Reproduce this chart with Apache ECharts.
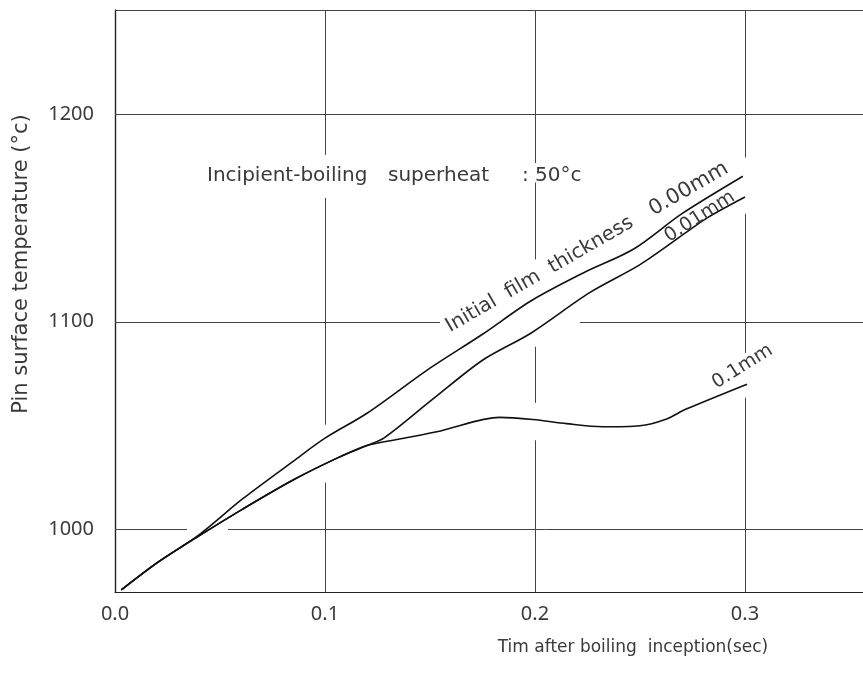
<!DOCTYPE html>
<html>
<head>
<meta charset="utf-8">
<script src="https://cdn.jsdelivr.net/npm/echarts@6/dist/echarts.min.js"></script>
<style>
html,body{margin:0;padding:0;background:#fff;}
#chart{width:863px;height:673px;}
</style>
</head>
<body>
<div id="chart"></div>
<script>
// ---- data ----
const time000 = [0.003, 0.02, 0.04, 0.061, 0.085, 0.1, 0.12, 0.149, 0.175, 0.198, 0.223, 0.247, 0.27, 0.299];
const temp000 = [971, 984, 997.5, 1015, 1033, 1044, 1056, 1077, 1094, 1110, 1123.5, 1135, 1152, 1170];

const time001 = [0.003, 0.02, 0.04, 0.061, 0.085, 0.107, 0.12, 0.128, 0.151, 0.175, 0.198, 0.226, 0.25, 0.272, 0.282, 0.3];
const temp001 = [971, 984, 997, 1010, 1024, 1035, 1040.5, 1044, 1062.5, 1081.5, 1094.5, 1114, 1127.5, 1143, 1150, 1160];

const time01 = [0.003, 0.02, 0.04, 0.061, 0.085, 0.107, 0.12, 0.135, 0.155, 0.183, 0.199, 0.215, 0.232, 0.25, 0.262, 0.272, 0.301];
const temp01 = [971, 984, 997, 1010, 1024, 1035, 1040.5, 1043.5, 1047.5, 1054, 1053, 1051, 1049.5, 1050, 1053, 1058, 1070];

const yTickValues = [1000, 1100, 1200];
const xTickValues = [0.0, 0.1, 0.2, 0.3];
const yMin = 970, yMax = 1250;
const xMin = 0, xMax = 0.3562;

// grid lines of the drawing (with the gaps the draftsman left)
const yGridValues = [1000, 1100, 1200, 1250];
const yGridGaps = [[[0.0343, 0.0538]], [[0.1548, 0.2214]], [], []];
const xGridValues = [0.1, 0.2, 0.3];
const xGridGaps = [
  [[1022.6, 1050.5], [1159.6, 1180.3]],
  [[1043, 1061], [1088, 1130], [1167, 1176.4]],
  [[1063.5, 1085], [1152, 1179]]
];

const seriesNames = ['0.00mm', '0.01mm', '0.1mm'];

// ---- build ----
function pairs(xs, ys){ return xs.map((x,i)=>[x, ys[i]]); }
function segments(lo, hi, gaps){
  const out = []; let s = lo;
  gaps.forEach(g => { out.push([s, g[0]]); s = g[1]; });
  out.push([s, hi]);
  return out;
}
const gridData = [];
yGridValues.forEach((v,i) => segments(xMin, xMax, yGridGaps[i]).forEach(sg =>
  gridData.push([{coord:[sg[0], v]}, {coord:[sg[1], v]}])));
xGridValues.forEach((v,i) => segments(yMin, yMax, xGridGaps[i]).forEach(sg =>
  gridData.push([{coord:[v, sg[0]]}, {coord:[v, sg[1]]}])));

const FONT = '"Noto Sans", "DejaVu Sans", sans-serif';
const DFONT = '"DejaVu Sans", sans-serif';
const TXT = '#3a3a3a';

const chart = echarts.init(document.getElementById('chart'), null, {renderer:'canvas'});

const lineStyle = {color:'#111', width:1.6};
const gridLineStyle = {color:'#444', width:1, type:'solid'};

function txt(text, x, y, size, deg, align, valign){
  return {type:'text', x:x, y:y, z:100, rotation:(deg||0)*Math.PI/180,
    style:{text:text, fontSize:size, fontFamily:DFONT, fill:TXT,
      align:align||'left', verticalAlign:valign||'bottom',
      textAlign:align||'left', textVerticalAlign:valign||'bottom'}};
}

const option = {
  backgroundColor:'#fff',
  animation:false,
  grid:{left:115, right:0, top:10, bottom:81, containLabel:false},
  xAxis:{
    type:'value', min:xMin, max:xMax, interval:0.1,
    axisLine:{show:true, onZero:false, lineStyle:{color:'#222', width:1.2}},
    axisTick:{show:false},
    splitLine:{show:false},
    axisLabel:{
      showMaxLabel:false, showMinLabel:true,
      margin:12, fontSize:20, color:TXT, fontFamily:FONT,
      formatter:function(v){
        for (const t of xTickValues){ if (Math.abs(v-t)<1e-6) return t.toFixed(1); }
        return '';
      }
    }
  },
  yAxis:{
    type:'value', min:yMin, max:yMax, interval:10,
    axisLine:{show:true, onZero:false, lineStyle:{color:'#222', width:1.4}},
    axisTick:{show:false},
    splitLine:{show:false},
    axisLabel:{
      showMaxLabel:false,
      margin:21, fontSize:20, color:TXT, fontFamily:FONT,
      formatter:function(v){ const r = Math.round(v); return (Math.abs(v-r)<1e-6 && yTickValues.indexOf(r)>=0) ? String(r) : ''; }
    }
  },
  series:[
    {name:seriesNames[0], type:'line', data:pairs(time000,temp000), smooth:0.3, showSymbol:false, lineStyle:lineStyle, z:5,
      markLine:{silent:true, symbol:'none', label:{show:false}, lineStyle:gridLineStyle, data:gridData, z:1}},
    {name:seriesNames[1], type:'line', data:pairs(time001,temp001), smooth:0.3, showSymbol:false, lineStyle:lineStyle, z:5},
    {name:seriesNames[2], type:'line', data:pairs(time01,temp01), smooth:0.3, showSymbol:false, lineStyle:lineStyle, z:5}
  ],
  graphic:[
    txt('Pin surface temperature (°c)', 22, 264, 21, 90, 'center', 'middle'),
    txt('Tim after boiling  inception(sec)', 633, 648, 17, 0, 'center', 'middle'),
    txt('Incipient-boiling', 207, 176, 20, 0, 'left', 'middle'),
    txt('superheat', 388, 176, 20, 0, 'left', 'middle'),
    txt(': 50°c', 522, 176, 20, 0, 'left', 'middle'),
    txt('Initial  film  thickness', 452.5, 336.5, 20, 30),
    txt('0.00mm', 656, 220, 21, 30),
    txt('0.01mm', 671.5, 246, 19, 32.5),
    txt('0.1mm', 719, 392.5, 19, 32)
  ]
};
chart.setOption(option);
</script>
</body>
</html>
